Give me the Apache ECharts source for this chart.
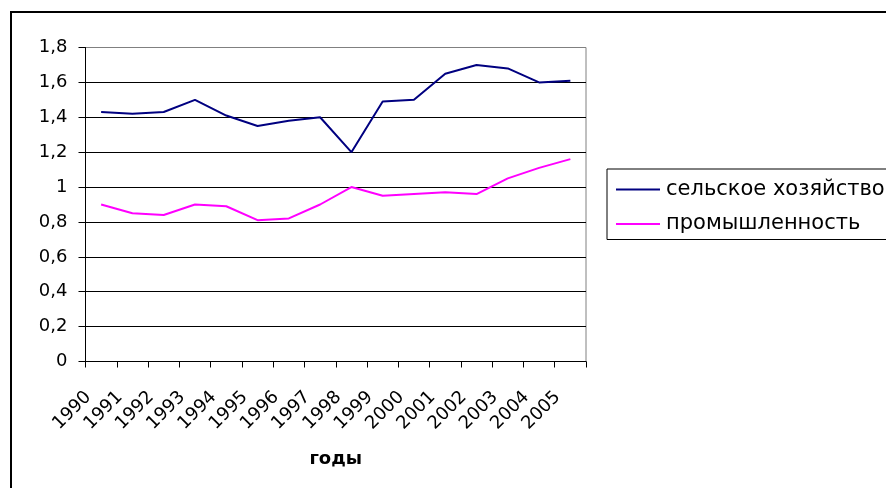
<!DOCTYPE html>
<html>
<head>
<meta charset="utf-8">
<script src="https://cdn.jsdelivr.net/npm/echarts@6/dist/echarts.min.js"></script>
<style>
  html, body { margin: 0; padding: 0; background: #fff; }
  #chart { width: 886px; height: 488px; }
</style>
</head>
<body>
<div id="chart"></div>
<script>
// Сельское хозяйство и промышленность, 1990–2005
const years = ['1990', '1991', '1992', '1993', '1994', '1995', '1996', '1997',
  '1998', '1999', '2000', '2001', '2002', '2003', '2004', '2005'];
const agriculture = [1.43, 1.42, 1.43, 1.50, 1.41, 1.35, 1.38, 1.40,
  1.20, 1.49, 1.50, 1.65, 1.70, 1.68, 1.60, 1.61];
const industry = [0.90, 0.85, 0.84, 0.90, 0.89, 0.81, 0.82, 0.90,
  1.00, 0.95, 0.96, 0.97, 0.96, 1.05, 1.11, 1.16];
const seriesNames = ['сельское хозяйство', 'промышленность'];
const xName = 'годы';

const FONT = 'DejaVu Sans';
const fmtTick = v => String(Math.round(v * 10) / 10).replace('.', ',');

const chart = echarts.init(document.getElementById('chart'), null, { renderer: 'canvas' });
chart.setOption({
  animation: false,
  backgroundColor: '#fff',
  textStyle: { fontFamily: FONT },
  graphic: [{
    type: 'rect', z: 100, silent: true,
    shape: { x: 11, y: 12, width: 1000, height: 1000 },
    style: { fill: 'none', stroke: '#000', lineWidth: 2 },
  }],
  grid: {
    left: 85.5, top: 47.5, right: 300, bottom: 126.5,
    show: true, borderColor: '#808080', borderWidth: 1, backgroundColor: 'transparent',
  },
  legend: {
    orient: 'vertical', left: 607, top: 169,
    padding: [10, 200, 5, 9], itemGap: 13.5,
    itemWidth: 44, itemHeight: 2, icon: 'rect',
    borderColor: '#000', borderWidth: 1,
    textStyle: { fontFamily: FONT, fontSize: 21, color: '#000', lineHeight: 20, padding: [0, 0, 0, 1] },
    data: seriesNames,
  },
  xAxis: {
    type: 'category', data: years, boundaryGap: true,
    name: xName, nameLocation: 'middle', nameGap: 89,
    nameTextStyle: { fontFamily: FONT, fontSize: 18, fontWeight: 'bold', color: '#000' },
    axisLine: { show: true, lineStyle: { color: '#000', width: 1 } },
    axisTick: { show: true, interval: 0, length: 6, lineStyle: { color: '#000', width: 1 } },
    axisLabel: { rotate: 45, interval: 0, margin: 20, padding: [0, 18, 0, 0],
      fontFamily: FONT, fontSize: 18, color: '#000' },
    splitLine: { show: false },
  },
  yAxis: {
    type: 'value', min: 0, max: 1.8, interval: 0.2,
    axisLine: { show: true, lineStyle: { color: '#000', width: 1 } },
    axisTick: { show: true, length: 7, lineStyle: { color: '#000' } },
    axisLabel: { margin: 18, fontFamily: FONT, fontSize: 18, color: '#000', formatter: fmtTick },
    splitLine: { lineStyle: { color: ['#000', '#000', '#000', '#000', '#000',
      '#000', '#000', '#000', '#000', '#808080'], width: 1 } },
  },
  series: [
    { name: seriesNames[0], type: 'line', data: agriculture, symbol: 'none',
      lineStyle: { color: '#000080', width: 2 }, itemStyle: { color: '#000080' } },
    { name: seriesNames[1], type: 'line', data: industry, symbol: 'none',
      lineStyle: { color: '#ff00ff', width: 2 }, itemStyle: { color: '#ff00ff' } },
  ],
});
</script>
</body>
</html>
